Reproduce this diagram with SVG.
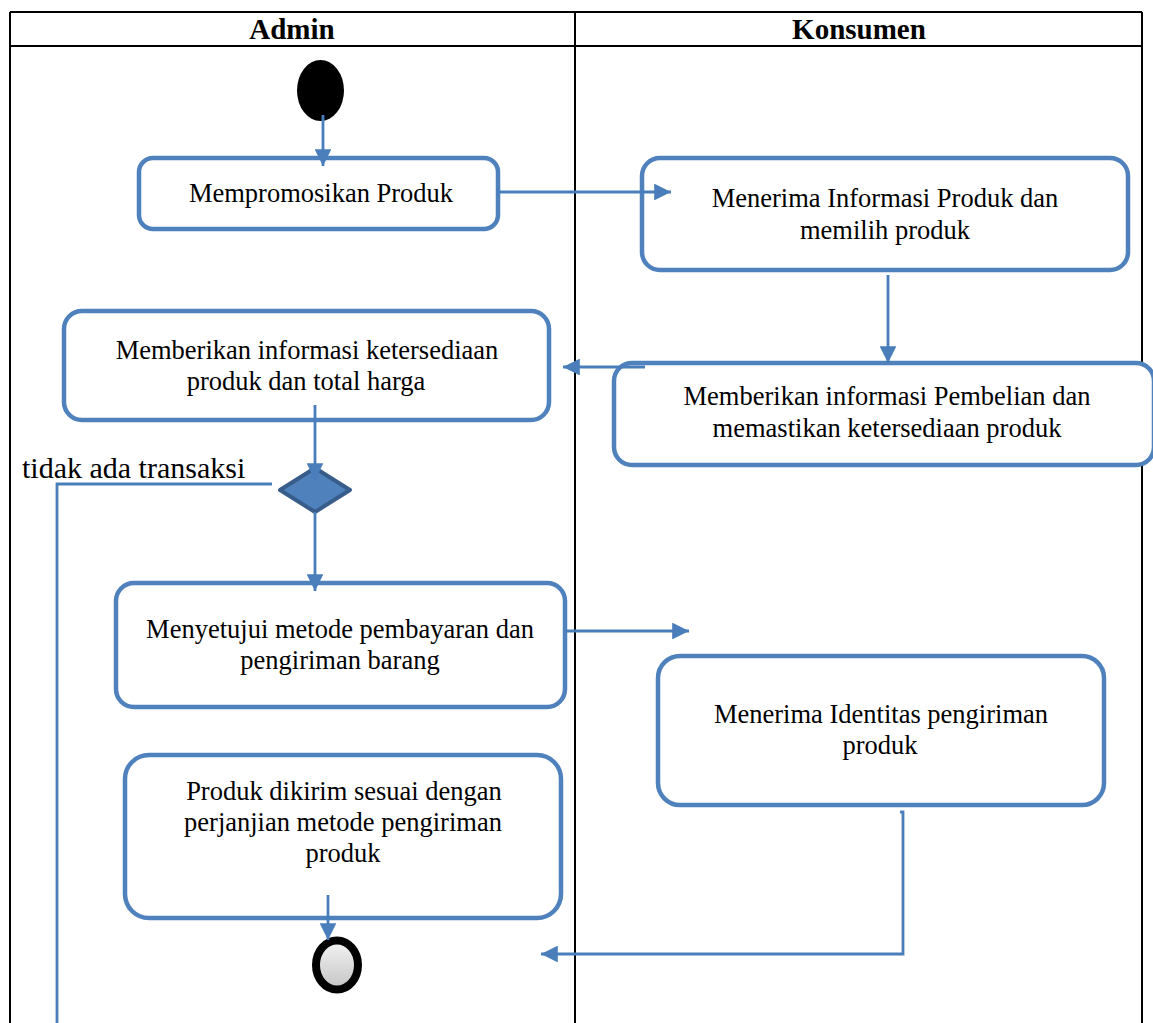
<svg xmlns="http://www.w3.org/2000/svg" width="1153" height="1023" viewBox="0 0 1153 1023">
<style>
.lane{stroke:#000;stroke-width:2;fill:none}
.hdr{font-family:"Liberation Serif",serif;font-weight:bold;font-size:29px;text-anchor:middle;fill:#000}
.box{fill:#fff;stroke:#4f81bd;stroke-width:4.5}
.t{font-family:"Liberation Serif",serif;font-size:26.5px;text-anchor:middle;fill:#000}
.c{stroke:#4a7ebb;stroke-width:2.8;fill:none}
</style>
<defs>
<marker id="arr" viewBox="0 0 10 10" refX="10" refY="5" markerWidth="6" markerHeight="6" markerUnits="strokeWidth" orient="auto">
<path d="M0,0 L10,5 L0,10 z" fill="#4a7ebb"/>
</marker>
<linearGradient id="g" x1="0" y1="0" x2="0" y2="1">
<stop offset="0" stop-color="#f4f4f4"/>
<stop offset="1" stop-color="#c4c4c4"/>
</linearGradient>
</defs>
<rect width="1153" height="1023" fill="#fff"/>
<g id="lanes">
<line class="lane" x1="10" y1="12" x2="1142" y2="12"/>
<line class="lane" x1="10" y1="46" x2="1142" y2="46"/>
<line class="lane" x1="10" y1="12" x2="10" y2="1023"/>
<line class="lane" x1="575" y1="12" x2="575" y2="1023"/>
<line class="lane" x1="1142" y1="12" x2="1142" y2="1023"/>
<text class="hdr" x="292" y="39">Admin</text>
<text class="hdr" x="859" y="39">Konsumen</text>
</g>
<g id="start"><ellipse cx="320.5" cy="90.5" rx="23.5" ry="30.5" fill="#000"/></g>
<g id="n1"><rect class="box" x="139" y="158" width="359" height="71" rx="14"/>
<text class="t" x="321" y="202">Mempromosikan Produk</text></g>
<g id="n2"><rect class="box" x="642" y="158" width="486" height="112" rx="18"/>
<text class="t" x="885" y="207">Menerima Informasi Produk dan</text>
<text class="t" x="885" y="239">memilih produk</text></g>
<g id="n3"><rect class="box" x="614" y="363" width="540" height="102" rx="18"/>
<text class="t" x="887" y="405">Memberikan informasi Pembelian dan</text>
<text class="t" x="887" y="437">memastikan ketersediaan produk</text></g>
<g id="n4"><rect class="box" x="64" y="311" width="485" height="109" rx="18"/>
<text class="t" x="307" y="359">Memberikan informasi ketersediaan</text>
<text class="t" x="306" y="390">produk dan total harga</text></g>
<g id="decision"><polygon points="315,468 350,490 315,512 280,490" fill="#4f81bd" stroke="#385d8a" stroke-width="4" stroke-linejoin="round"/></g>
<g id="n5"><rect class="box" x="116" y="583" width="449" height="124" rx="18"/>
<text class="t" x="340" y="638">Menyetujui metode pembayaran dan</text>
<text class="t" x="340" y="669">pengiriman barang</text></g>
<g id="n6"><rect class="box" x="658" y="656" width="446" height="149" rx="22"/>
<text class="t" x="881" y="723">Menerima Identitas pengiriman</text>
<text class="t" x="880" y="754">produk</text></g>
<g id="n7"><rect class="box" x="125" y="755" width="436" height="163" rx="24"/>
<text class="t" x="344" y="800">Produk dikirim sesuai dengan</text>
<text class="t" x="343" y="831">perjanjian metode pengiriman</text>
<text class="t" x="343" y="862">produk</text></g>
<g id="end"><ellipse cx="337" cy="965" rx="21" ry="24.5" fill="url(#g)" stroke="#000" stroke-width="8"/></g>
<g id="label"><text x="22" y="478" font-family="Liberation Serif,serif" font-size="30px" fill="#000">tidak ada transaksi</text></g>
<g id="connectors">
<line class="c" x1="323" y1="115" x2="323" y2="166" marker-end="url(#arr)"/>
<line class="c" x1="498" y1="192" x2="671" y2="192" marker-end="url(#arr)"/>
<line class="c" x1="888" y1="275" x2="888" y2="363" marker-end="url(#arr)"/>
<line class="c" x1="645" y1="367" x2="563" y2="367" marker-end="url(#arr)"/>
<line class="c" x1="315" y1="405" x2="315" y2="480" marker-end="url(#arr)"/>
<polyline class="c" points="272,484 57,484 57,1023"/>
<line class="c" x1="315" y1="512" x2="315" y2="591" marker-end="url(#arr)"/>
<line class="c" x1="565" y1="631" x2="689" y2="631" marker-end="url(#arr)"/>
<line class="c" x1="328" y1="895" x2="328" y2="940" marker-end="url(#arr)"/>
<polyline class="c" points="900,812 903,812 903,954 541,954" marker-end="url(#arr)"/>
</g>
</svg>
